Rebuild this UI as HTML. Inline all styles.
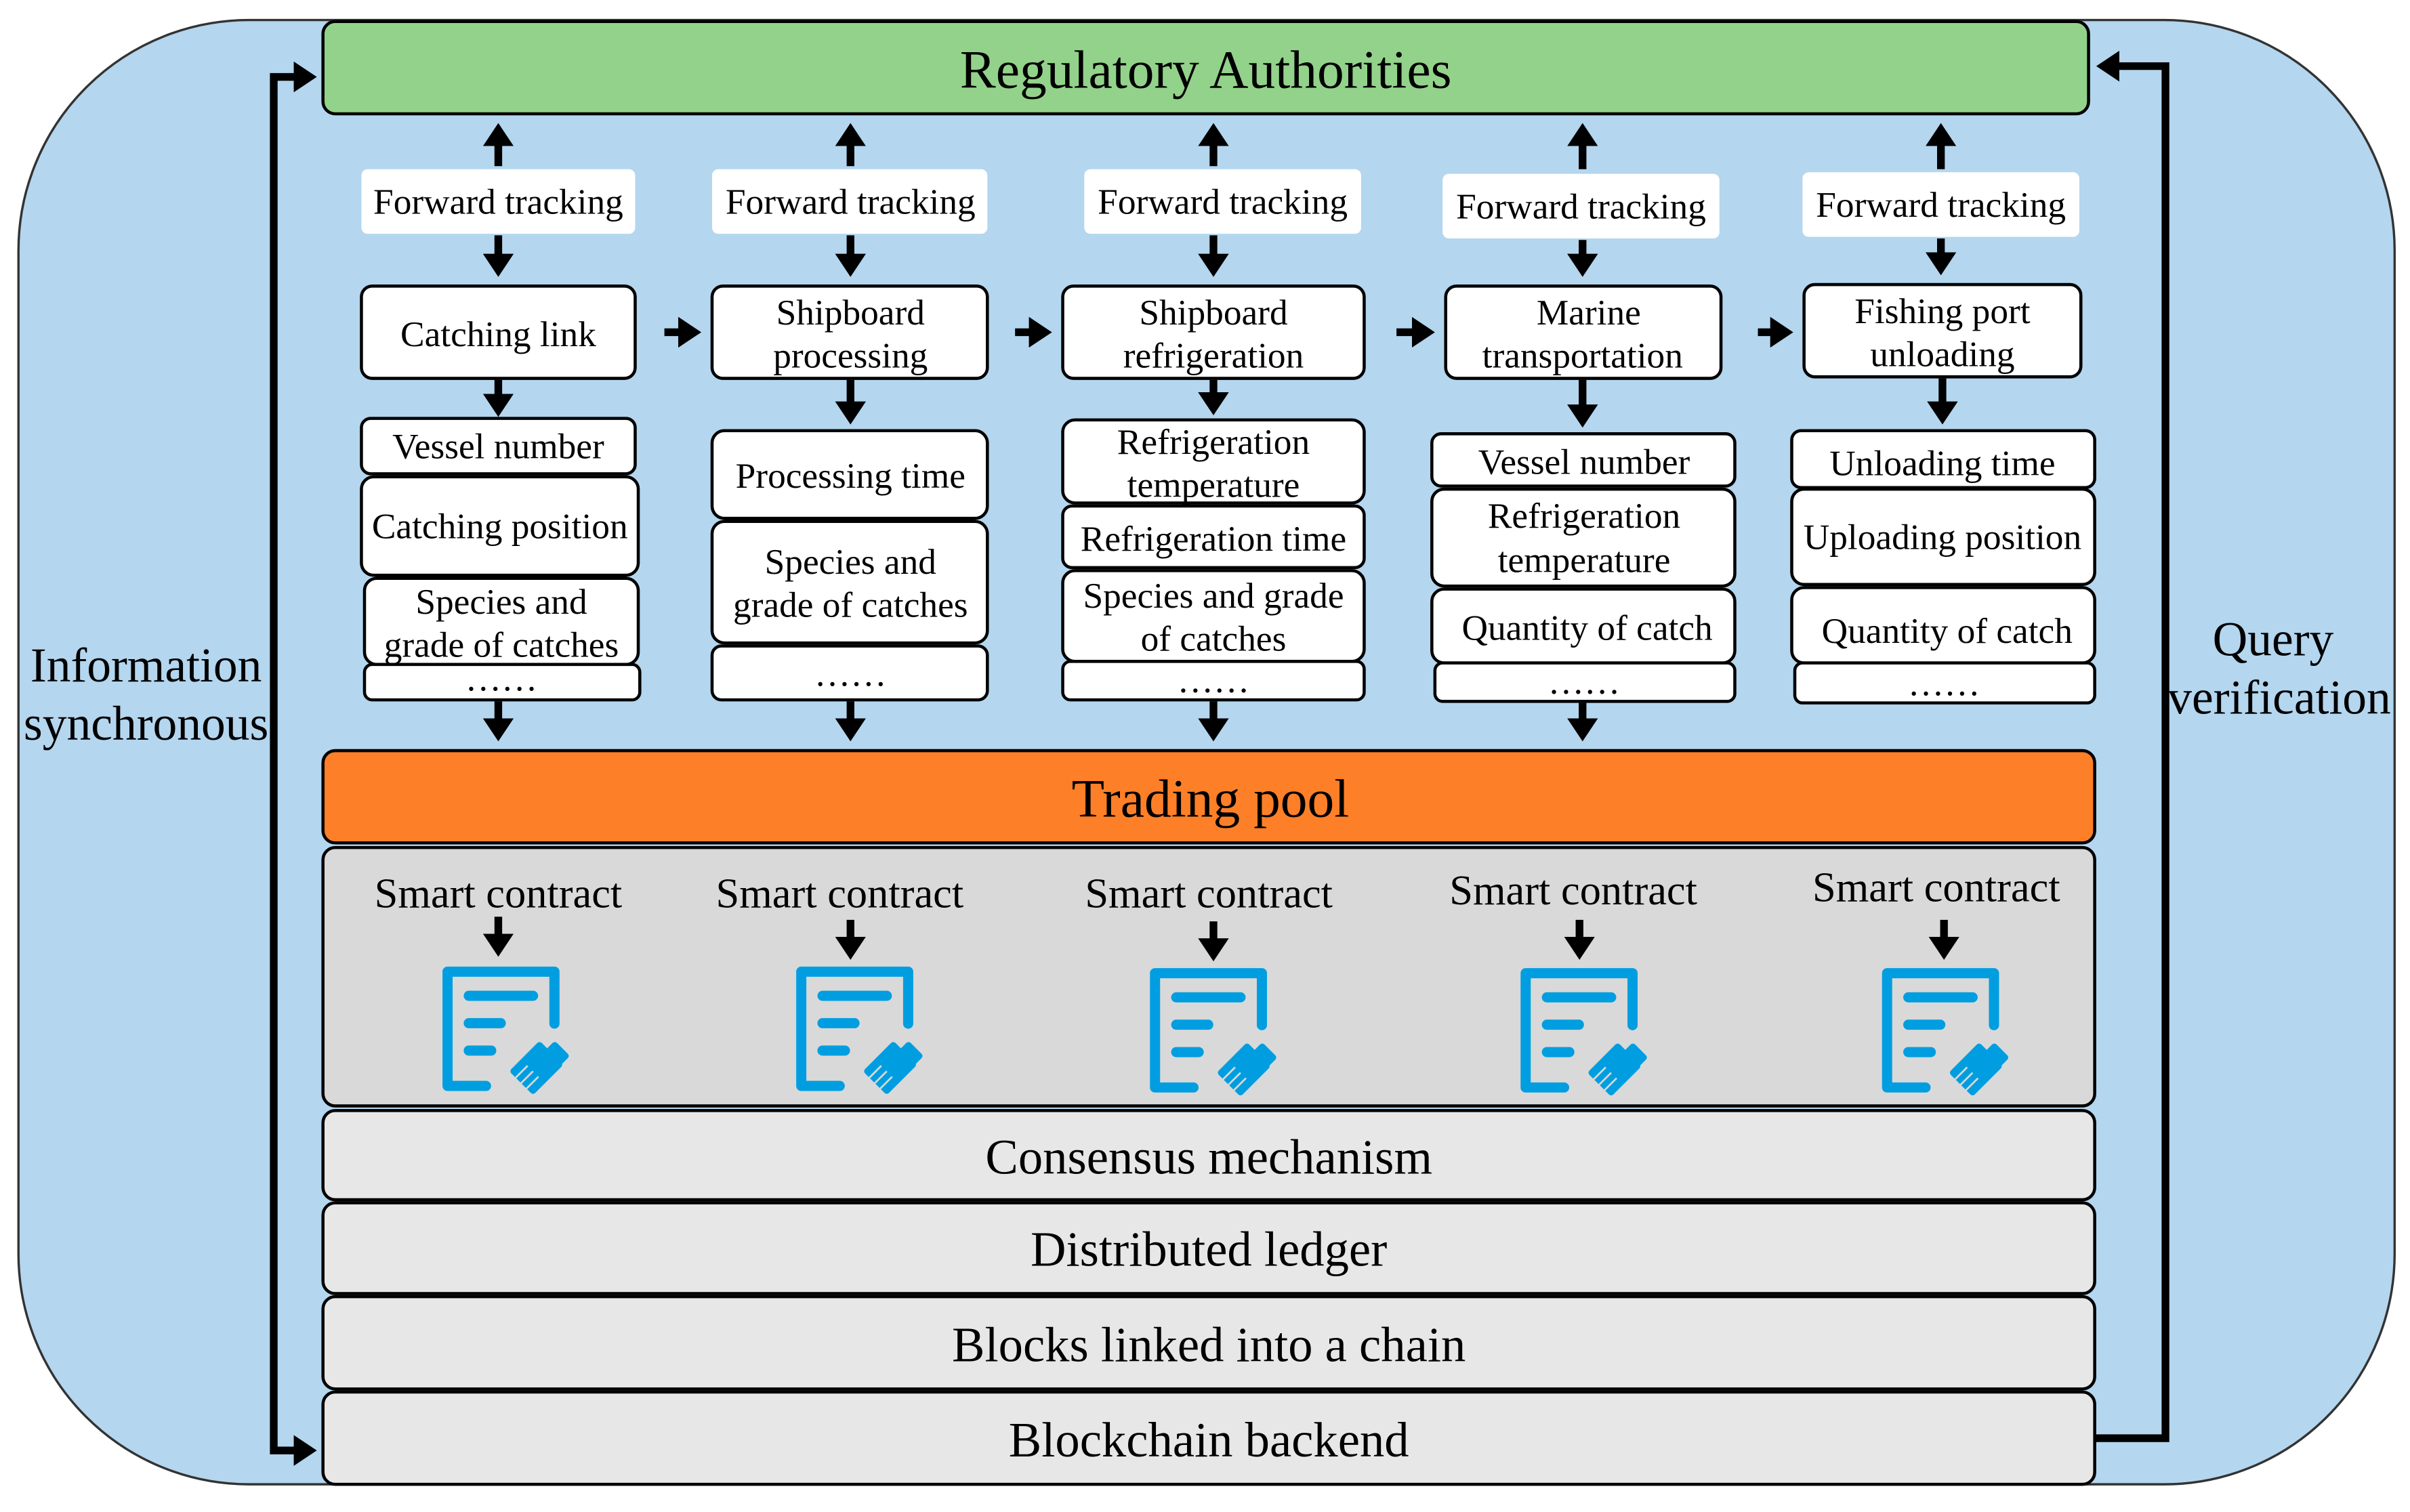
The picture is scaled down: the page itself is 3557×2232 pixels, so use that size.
<!DOCTYPE html>
<html><head><meta charset="utf-8"><style>
html,body{margin:0;padding:0;background:#fff;}
svg{display:block;}
text{font-family:"Liberation Serif",serif;fill:#000;}
</style></head><body>
<svg width="3557" height="2232" viewBox="0 0 1567 983" preserveAspectRatio="none" xmlns="http://www.w3.org/2000/svg">
<defs>
<marker id="ah" markerWidth="4" markerHeight="4" refX="2.2" refY="2" orient="auto" markerUnits="strokeWidth">
<path d="M0,0 L3,2 L0,4 z" fill="#000"/></marker>
<g id="icon">
<path d="M34,89 L9,89 L9,14.7 L78.5,14.7 L78.5,48.5" fill="none" stroke="#009ee0" stroke-width="6.6" stroke-linecap="round" stroke-linejoin="round"/>
<line x1="22.8" y1="30.4" x2="64.6" y2="30.4" stroke="#009ee0" stroke-width="6.6" stroke-linecap="round"/>
<line x1="22.8" y1="48.2" x2="43.6" y2="48.2" stroke="#009ee0" stroke-width="6.6" stroke-linecap="round"/>
<line x1="22.8" y1="66" x2="37.4" y2="66" stroke="#009ee0" stroke-width="6.6" stroke-linecap="round"/>
<g transform="translate(66,78) rotate(45)">
<rect x="-11" y="-15" width="22" height="28" rx="2" fill="#009ee0"/>
<rect x="-4" y="-22" width="14" height="10" rx="2" fill="#009ee0"/>
<line x1="-5" y1="2" x2="-5" y2="14" stroke="#d9d9d9" stroke-width="1.2"/>
<line x1="0" y1="2" x2="0" y2="14" stroke="#d9d9d9" stroke-width="1.2"/>
<line x1="5" y1="2" x2="5" y2="14" stroke="#d9d9d9" stroke-width="1.2"/>
</g>
</g>
</defs>
<rect x="12" y="13" width="1545" height="952" rx="150" fill="#b4d6ef" stroke="#333" stroke-width="1.5"/>

<rect x="210" y="14" width="1148" height="60" rx="8" fill="#93d28a" stroke="#000" stroke-width="2"/>
<text x="784" y="57" font-size="35" text-anchor="middle">Regulatory Authorities</text>

<g stroke="#000" stroke-width="5">
<line x1="324" y1="108" x2="324" y2="84" marker-end="url(#ah)"/>
<line x1="324" y1="153" x2="324" y2="176" marker-end="url(#ah)"/>
<line x1="553" y1="108" x2="553" y2="84" marker-end="url(#ah)"/>
<line x1="553" y1="153" x2="553" y2="176" marker-end="url(#ah)"/>
<line x1="789" y1="108" x2="789" y2="84" marker-end="url(#ah)"/>
<line x1="789" y1="153" x2="789" y2="176" marker-end="url(#ah)"/>
<line x1="1029" y1="110" x2="1029" y2="84" marker-end="url(#ah)"/>
<line x1="1029" y1="156" x2="1029" y2="176" marker-end="url(#ah)"/>
<line x1="1262" y1="110" x2="1262" y2="84" marker-end="url(#ah)"/>
<line x1="1262" y1="155" x2="1262" y2="175" marker-end="url(#ah)"/>
</g>
<g fill="#fff">
<rect x="235" y="110" width="178" height="42" rx="4"/>
<rect x="463" y="110" width="179" height="42" rx="4"/>
<rect x="705" y="110" width="180" height="42" rx="4"/>
<rect x="938" y="113" width="180" height="42" rx="4"/>
<rect x="1172" y="112" width="180" height="42" rx="4"/>
</g>
<g font-size="23.5" text-anchor="middle">
<text x="324" y="139">Forward tracking</text>
<text x="553" y="139">Forward tracking</text>
<text x="795" y="139">Forward tracking</text>
<text x="1028" y="142">Forward tracking</text>
<text x="1262" y="141">Forward tracking</text>
</g>

<g fill="#fff" stroke="#000" stroke-width="2">
<rect x="235" y="186" width="178" height="60" rx="7"/>
<rect x="463" y="186" width="179" height="60" rx="7"/>
<rect x="691" y="186" width="196" height="60" rx="7"/>
<rect x="940" y="186" width="179" height="60" rx="7"/>
<rect x="1173" y="185" width="180" height="60" rx="7"/>
</g>
<g font-size="23.5" text-anchor="middle">
<text x="324" y="225">Catching link</text>
<text x="553" y="211">Shipboard</text><text x="553" y="239">processing</text>
<text x="789" y="211">Shipboard</text><text x="789" y="239">refrigeration</text>
<text x="1033" y="211">Marine</text><text x="1029" y="239">transportation</text>
<text x="1263" y="210">Fishing port</text><text x="1263" y="238">unloading</text>
</g>
<g stroke="#000" stroke-width="5">
<line x1="432" y1="216" x2="452" y2="216" marker-end="url(#ah)"/>
<line x1="660" y1="216" x2="680" y2="216" marker-end="url(#ah)"/>
<line x1="908" y1="216" x2="929" y2="216" marker-end="url(#ah)"/>
<line x1="1143" y1="216" x2="1162" y2="216" marker-end="url(#ah)"/>
<line x1="324" y1="247" x2="324" y2="267" marker-end="url(#ah)"/>
<line x1="553" y1="247" x2="553" y2="272" marker-end="url(#ah)"/>
<line x1="789" y1="247" x2="789" y2="266" marker-end="url(#ah)"/>
<line x1="1029" y1="247" x2="1029" y2="274" marker-end="url(#ah)"/>
<line x1="1263" y1="246" x2="1263" y2="272" marker-end="url(#ah)"/>
</g>

<g fill="#fff" stroke="#000" stroke-width="2">
<rect x="235" y="272" width="178" height="36" rx="6"/>
<rect x="235" y="310" width="180" height="64" rx="8"/>
<rect x="237" y="376" width="178" height="56" rx="8"/>
<rect x="237" y="432" width="179" height="23" rx="5"/>
<rect x="463" y="280" width="179" height="57" rx="8"/>
<rect x="463" y="339" width="179" height="79" rx="8"/>
<rect x="463" y="420" width="179" height="35" rx="6"/>
<rect x="691" y="273" width="196" height="54" rx="8"/>
<rect x="691" y="329" width="196" height="40" rx="6"/>
<rect x="691" y="371" width="196" height="59" rx="8"/>
<rect x="691" y="430" width="196" height="25" rx="5"/>
<rect x="931" y="282" width="197" height="34" rx="6"/>
<rect x="931" y="318" width="197" height="63" rx="8"/>
<rect x="931" y="383" width="197" height="48" rx="8"/>
<rect x="933" y="431" width="195" height="25" rx="5"/>
<rect x="1165" y="280" width="197" height="37" rx="6"/>
<rect x="1165" y="318" width="197" height="62" rx="8"/>
<rect x="1165" y="382" width="197" height="49" rx="8"/>
<rect x="1167" y="431" width="195" height="26" rx="5"/>
</g>
<g font-size="23.5" text-anchor="middle">
<text x="324" y="298">Vessel number</text>
<text x="325" y="350">Catching position</text>
<text x="326" y="399">Species and</text><text x="326" y="427">grade of catches</text>
<text x="326" y="449">……</text>
<text x="553" y="317">Processing time</text>
<text x="553" y="373">Species and</text><text x="553" y="401">grade of catches</text>
<text x="553" y="446">……</text>
<text x="789" y="295">Refrigeration</text><text x="789" y="323">temperature</text>
<text x="789" y="358">Refrigeration time</text>
<text x="789" y="395">Species and grade</text><text x="789" y="423">of catches</text>
<text x="789" y="450">……</text>
<text x="1030" y="308">Vessel number</text>
<text x="1030" y="343">Refrigeration</text><text x="1030" y="372">temperature</text>
<text x="1032" y="416">Quantity of catch</text>
<text x="1030" y="451">……</text>
<text x="1263" y="309">Unloading time</text>
<text x="1263" y="357">Uploading position</text>
<text x="1266" y="418">Quantity of catch</text>
<text x="1264" y="452">……</text>
</g>
<g stroke="#000" stroke-width="5">
<line x1="324" y1="456" x2="324" y2="478" marker-end="url(#ah)"/>
<line x1="553" y1="456" x2="553" y2="478" marker-end="url(#ah)"/>
<line x1="789" y1="456" x2="789" y2="478" marker-end="url(#ah)"/>
<line x1="1029" y1="457" x2="1029" y2="478" marker-end="url(#ah)"/>
</g>

<rect x="210" y="488" width="1152" height="60" rx="8" fill="#fd7f28" stroke="#000" stroke-width="2"/>
<text x="787" y="531" font-size="35" text-anchor="middle">Trading pool</text>

<rect x="210" y="551" width="1152" height="168" rx="8" fill="#d9d9d9" stroke="#000" stroke-width="2"/>
<g font-size="27.5" text-anchor="middle">
<text x="324" y="590">Smart contract</text>
<text x="546" y="590">Smart contract</text>
<text x="786" y="590">Smart contract</text>
<text x="1023" y="588">Smart contract</text>
<text x="1259" y="586">Smart contract</text>
</g>
<g stroke="#000" stroke-width="5">
<line x1="324" y1="596" x2="324" y2="618" marker-end="url(#ah)"/>
<line x1="553" y1="598" x2="553" y2="620" marker-end="url(#ah)"/>
<line x1="789" y1="599" x2="789" y2="621" marker-end="url(#ah)"/>
<line x1="1027" y1="598" x2="1027" y2="620" marker-end="url(#ah)"/>
<line x1="1264" y1="598" x2="1264" y2="620" marker-end="url(#ah)"/>
</g>
<use href="#icon" transform="translate(282,617)"/>
<use href="#icon" transform="translate(512,617)"/>
<use href="#icon" transform="translate(742,618)"/>
<use href="#icon" transform="translate(983,618)"/>
<use href="#icon" transform="translate(1218,618)"/>

<g fill="#e7e7e7" stroke="#000" stroke-width="2">
<rect x="210" y="722" width="1152" height="58" rx="8"/>
<rect x="210" y="782" width="1152" height="59" rx="8"/>
<rect x="210" y="843" width="1152" height="60" rx="8"/>
<rect x="210" y="905" width="1152" height="60" rx="8"/>
</g>
<g font-size="32" text-anchor="middle">
<text x="786" y="763">Consensus mechanism</text>
<text x="786" y="823">Distributed ledger</text>
<text x="786" y="885">Blocks linked into a chain</text>
<text x="786" y="947">Blockchain backend</text>
</g>

<g stroke="#000" stroke-width="5" fill="none">
<polyline points="200,50 178,50 178,943 200,943"/>
<line x1="195" y1="50" x2="202" y2="50" marker-end="url(#ah)"/>
<line x1="195" y1="943" x2="202" y2="943" marker-end="url(#ah)"/>
<polyline points="1362,935 1408,935 1408,43 1372,43"/>
<line x1="1375" y1="43" x2="1367" y2="43" marker-end="url(#ah)"/>
</g>
<g font-size="31.5" text-anchor="middle">
<text x="95" y="443">Information</text>
<text x="95" y="481">synchronous</text>
<text x="1478" y="426">Query</text>
<text x="1482" y="464">verification</text>
</g>
</svg>
</body></html>
